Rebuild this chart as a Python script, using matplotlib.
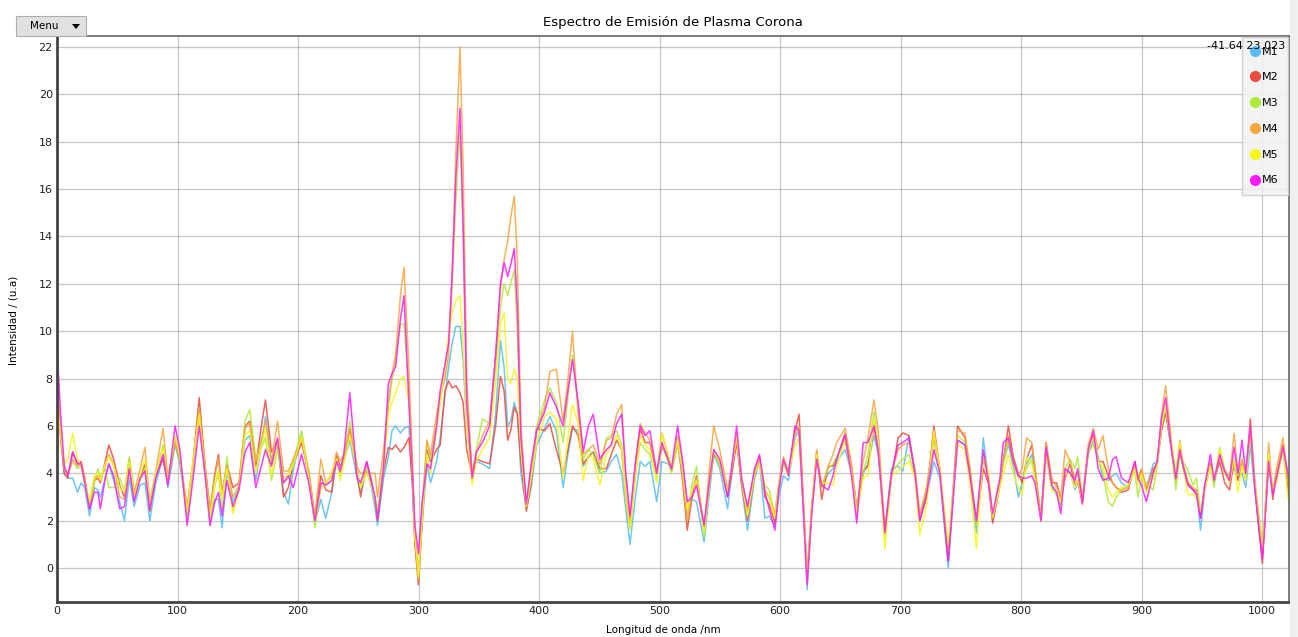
import matplotlib
matplotlib.use("Agg")
from matplotlib import pyplot as plt
from matplotlib.lines import Line2D
from matplotlib.patches import Rectangle, Polygon

# wavelength (nm) and intensity of the six samples
wavelength = [0, 3, 6, 9, 13, 17, 20, 23, 27, 31, 34, 36, 40, 43, 47, 52, 56, 60, 64, 69,
              73, 77, 82, 88, 92, 98, 102, 108, 113, 118, 123, 127, 131, 134, 137, 141, 146, 151, 156, 160,
              165, 169, 173, 178, 183, 188, 192, 196, 203, 209, 214, 219, 223, 228, 232, 235, 238, 243, 249, 252,
              257, 261, 264, 266, 271, 275, 278, 281, 285, 288, 292, 295, 297, 300, 303, 307, 310, 315, 318, 322,
              325, 328, 331, 334.4, 337, 340, 344.5, 348, 353, 359, 364, 368, 371, 374, 376.5, 379.5, 382, 385, 389.5, 393.5,
              398, 404.7, 409, 414.4, 420, 424, 427.8, 432.5, 436.7, 441, 445, 450.5, 456, 460, 464.4, 468.6, 472, 475.5, 480, 484,
              488, 492, 497.7, 502, 507, 510, 515, 519, 523, 527, 530.7, 537, 541, 545, 550, 556.5, 560, 564, 568, 573,
              579, 583, 587.5, 591, 595.8, 599, 602.8, 607, 612.5, 615.8, 619.4, 622.5, 626.3, 630.5, 634.6, 640, 644, 647, 654, 659.6,
              663.7, 669, 673, 678, 681.5, 687, 692.5, 698, 702, 707, 712, 716, 721.6, 727.7, 732.7, 739.6, 747.4, 753.5, 757.6, 763,
              768.7, 772.9, 776.5, 782.5, 785.3, 789.5, 793.6, 797.8, 801, 804.7, 809, 811.6, 816.6, 820.8, 825.5, 829.6, 833, 836.6, 840.7, 844.8,
              847, 851, 855.8, 860, 864, 868, 872.4, 876, 879, 883.4, 889, 894.5, 897, 900, 904, 909.7, 913, 916.5, 920, 924.9,
              928.5, 931.8, 934.5, 938.7, 942.8, 945.6, 949, 952.5, 957.2, 960.2, 964.9, 969, 973, 976.8, 980, 983.4, 986.5, 990.3, 994, 997.5,
              1000.3, 1002, 1005.5, 1009, 1012, 1017.4, 1021.5, 1023]

m1 = [8.0, 5.6, 4.0, 3.8, 3.8, 3.2, 3.6, 3.4, 2.2, 3.4, 3.3, 3.0, 3.8, 4.4, 3.7, 2.8, 2.0, 3.8, 2.6, 3.5,
      3.6, 2.0, 3.6, 4.7, 3.4, 5.2, 4.4, 2.2, 4.3, 6.9, 4.0, 2.1, 2.9, 2.9, 1.7, 4.1, 2.8, 3.4, 5.4, 5.6,
      3.7, 5.0, 6.4, 4.4, 5.2, 3.2, 2.7, 4.1, 5.7, 3.7, 1.9, 2.9, 2.1, 3.2, 4.6, 4.0, 4.5, 5.4, 3.8, 3.2,
      4.1, 3.4, 2.5, 1.8, 3.8, 4.7, 5.8, 6.0, 5.7, 5.9, 6.0, 3.5, 1.2, -0.4, 1.8, 4.4, 3.6, 4.5, 5.5, 7.3,
      8.5, 9.5, 10.2, 10.2, 8.8, 6.0, 3.8, 4.5, 4.4, 4.2, 6.5, 9.6, 8.5, 6.0, 6.2, 7.0, 6.5, 4.0, 2.5, 3.4,
      5.2, 5.9, 6.4, 5.8, 3.4, 4.8, 5.9, 5.8, 4.3, 4.7, 4.9, 4.0, 4.1, 4.5, 4.8, 4.0, 2.5, 1.0, 3.0, 4.5,
      4.3, 4.5, 2.8, 4.5, 4.4, 4.2, 5.5, 4.5, 2.8, 2.9, 2.8, 1.1, 3.0, 4.8, 4.2, 2.5, 4.0, 5.5, 3.5, 1.6,
      3.8, 4.5, 2.1, 2.2, 1.8, 3.0, 3.9, 3.7, 5.5, 5.8, 2.5, -0.9, 2.4, 4.7, 3.4, 4.0, 4.2, 4.5, 5.0, 4.0,
      2.6, 4.0, 4.4, 5.6, 4.8, 1.6, 4.2, 4.3, 4.1, 5.6, 4.0, 2.1, 3.0, 4.5, 3.8, 0.0, 5.4, 5.2, 4.0, 1.5,
      5.5, 3.8, 2.0, 3.5, 4.5, 5.2, 4.3, 3.0, 3.6, 4.4, 4.8, 3.8, 2.0, 4.7, 3.4, 3.1, 2.7, 4.0, 4.1, 3.3,
      3.6, 3.0, 4.8, 5.4, 4.7, 3.8, 3.7, 3.9, 4.0, 3.6, 3.4, 4.3, 3.8, 4.0, 3.4, 4.4, 4.5, 5.8, 6.6, 5.0,
      3.8, 4.8, 4.3, 3.6, 3.3, 3.3, 1.6, 3.3, 4.4, 3.6, 4.8, 4.1, 3.9, 4.2, 3.8, 4.0, 3.4, 5.2, 3.3, 1.6,
      0.6, 1.8, 4.3, 3.3, 4.0, 4.9, 3.6, 3.0]

m2 = [7.2, 5.5, 4.0, 3.8, 4.9, 4.4, 4.5, 3.8, 2.5, 3.7, 3.8, 3.6, 4.5, 5.2, 4.6, 3.5, 3.0, 4.6, 3.0, 3.8,
      4.4, 2.4, 3.9, 4.6, 3.6, 5.4, 4.6, 2.5, 4.5, 7.2, 4.2, 2.4, 4.0, 4.8, 3.1, 4.4, 3.4, 3.6, 6.0, 6.2,
      4.3, 5.8, 7.1, 4.9, 5.4, 3.0, 3.4, 4.4, 5.3, 4.0, 2.1, 3.9, 3.3, 3.2, 4.8, 4.3, 4.5, 5.9, 4.0, 3.0,
      4.5, 3.7, 2.8, 2.0, 4.1, 5.1, 5.0, 5.2, 4.9, 5.1, 5.5, 3.5, 1.0, -0.7, 2.0, 5.0, 4.5, 5.0, 5.2, 7.5,
      7.9, 7.6, 7.7, 7.4, 7.0, 5.0, 3.9, 4.6, 4.5, 4.4, 6.0, 8.1, 7.5, 5.4, 5.8, 6.8, 6.5, 4.5, 2.4, 3.6,
      5.9, 5.8, 6.1, 5.0, 4.0, 5.0, 6.0, 5.6, 4.4, 4.7, 4.9, 4.2, 4.2, 4.8, 5.4, 5.0, 3.0, 1.7, 4.0, 5.9,
      5.3, 5.3, 4.0, 5.1, 4.7, 4.1, 5.3, 3.8, 1.6, 3.0, 3.9, 1.7, 3.5, 4.8, 4.5, 3.0, 4.0, 5.3, 3.6, 2.0,
      4.0, 4.7, 3.0, 2.7, 1.9, 3.4, 4.5, 3.9, 5.8, 6.5, 2.8, -0.3, 2.5, 4.9, 2.9, 4.3, 4.3, 4.6, 5.7, 4.2,
      2.4, 4.1, 4.3, 6.0, 5.0, 1.5, 3.8, 5.5, 5.7, 5.6, 4.0, 2.0, 3.0, 6.0, 4.1, 0.3, 6.0, 5.5, 4.1, 1.9,
      4.2, 3.6, 1.9, 3.5, 4.5, 6.0, 4.7, 4.0, 3.6, 4.6, 5.2, 4.2, 2.0, 5.3, 3.6, 3.6, 2.9, 3.8, 4.4, 3.5,
      3.7, 2.7, 5.0, 5.6, 4.5, 4.5, 3.9, 3.6, 3.4, 3.2, 3.3, 4.5, 3.7, 4.1, 3.3, 4.2, 4.4, 5.8, 6.6, 5.0,
      3.7, 5.1, 4.3, 3.5, 3.3, 3.2, 2.1, 3.4, 4.4, 3.7, 4.5, 3.6, 3.3, 4.5, 3.7, 4.5, 3.8, 6.3, 3.5, 1.6,
      0.2, 1.7, 4.6, 2.9, 4.0, 5.2, 3.3, 2.8]

m3 = [7.6, 5.8, 4.2, 3.9, 4.5, 4.2, 4.3, 3.6, 2.6, 3.6, 4.2, 3.8, 4.2, 3.4, 3.4, 3.8, 3.3, 4.7, 3.3, 3.7,
      4.2, 2.6, 4.0, 5.2, 3.8, 5.5, 4.8, 2.0, 4.4, 6.4, 3.8, 1.8, 3.5, 4.0, 2.4, 4.7, 2.4, 3.4, 6.2, 6.7,
      4.6, 5.0, 5.5, 3.7, 5.0, 3.6, 3.8, 4.5, 5.8, 3.9, 1.7, 3.4, 3.5, 3.7, 4.6, 3.9, 4.6, 6.2, 4.3, 3.4,
      4.2, 3.5, 2.8, 2.2, 4.3, 6.8, 7.9, 8.8, 10.3, 10.3, 7.5, 4.0, 1.5, -0.3, 2.3, 5.4, 4.6, 6.0, 7.0, 8.3,
      9.5, 12.0, 15.5, 18.5, 14.0, 7.5, 4.0, 5.0, 6.3, 6.1, 8.5, 11.0, 12.0, 11.5, 12.0, 12.6, 10.0, 5.0, 2.6, 4.0,
      6.0, 7.1, 7.6, 7.0, 5.3, 7.2, 9.0, 6.8, 4.6, 5.0, 4.8, 4.0, 5.5, 5.6, 5.8, 5.2, 3.2, 1.8, 4.0, 5.3,
      5.0, 4.8, 3.8, 5.2, 4.5, 4.0, 5.2, 4.2, 2.2, 3.5, 4.3, 1.3, 3.3, 4.9, 4.3, 3.2, 4.2, 5.7, 3.8, 2.3,
      4.1, 4.6, 3.5, 3.3, 2.2, 3.5, 4.4, 4.0, 5.6, 5.9, 2.5, -0.6, 2.5, 4.8, 3.4, 4.2, 4.4, 4.7, 5.4, 4.0,
      2.2, 4.0, 4.8, 6.6, 5.2, 1.3, 4.0, 4.4, 4.6, 4.8, 3.9, 2.2, 3.3, 5.4, 4.0, 0.6, 5.6, 5.3, 4.3, 1.8,
      4.8, 4.0, 2.1, 3.6, 4.4, 5.4, 4.4, 3.8, 3.8, 4.2, 4.6, 3.8, 2.1, 4.8, 3.5, 3.1, 2.6, 4.2, 4.6, 4.2,
      4.7, 3.0, 4.9, 5.2, 4.6, 4.0, 2.8, 2.6, 3.0, 3.3, 3.5, 4.1, 3.0, 3.8, 3.6, 3.3, 4.3, 6.0, 6.9, 5.0,
      3.3, 4.8, 4.5, 4.1, 3.5, 3.8, 2.3, 3.5, 4.3, 3.4, 5.1, 4.2, 3.8, 4.6, 3.9, 4.5, 3.8, 5.6, 3.6, 2.2,
      1.1, 1.9, 4.5, 3.2, 4.1, 5.1, 3.8, 3.2]

m4 = [7.8, 6.0, 4.2, 4.0, 4.6, 4.3, 4.4, 3.8, 2.6, 3.8, 3.9, 3.7, 4.3, 4.8, 4.4, 3.0, 2.9, 4.2, 3.2, 4.2,
      5.1, 2.8, 4.1, 5.9, 3.8, 5.3, 4.6, 2.6, 4.5, 6.8, 4.3, 2.5, 3.9, 4.6, 3.2, 4.3, 3.0, 3.5, 5.9, 6.1,
      4.5, 5.3, 6.2, 4.5, 6.2, 4.1, 4.1, 4.6, 5.5, 4.1, 2.2, 4.6, 3.6, 3.9, 4.9, 4.5, 4.8, 5.9, 4.3, 4.0,
      4.0, 4.0, 4.0, 3.0, 5.0, 7.0, 8.2, 9.0, 11.5, 12.7, 8.5, 4.5, 1.5, -0.5, 2.5, 5.4, 4.8, 6.5, 7.3, 8.0,
      9.0, 12.5, 17.5, 22.0, 17.0, 8.0, 3.9, 4.8, 5.6, 6.2, 9.0, 11.8, 13.0, 13.8, 14.8, 15.7, 13.0, 6.0, 2.7, 4.2,
      5.8, 6.8, 8.3, 8.4, 6.2, 8.0, 10.0, 6.5, 4.8, 5.0, 5.2, 4.4, 5.4, 5.5, 6.5, 6.9, 4.0, 2.0, 4.2, 6.1,
      5.7, 5.4, 4.0, 5.7, 4.8, 4.2, 5.6, 4.0, 2.0, 3.2, 3.8, 1.7, 4.0, 6.0, 5.0, 3.3, 4.3, 5.6, 3.9, 2.4,
      4.2, 4.6, 3.3, 3.0, 2.3, 3.6, 4.7, 4.1, 5.7, 6.0, 2.7, -0.4, 2.6, 5.0, 3.4, 4.3, 4.8, 5.3, 5.9, 4.3,
      2.5, 4.5, 5.5, 7.1, 5.8, 1.6, 4.0, 5.0, 5.2, 5.3, 4.2, 2.3, 3.4, 5.6, 4.2, 0.6, 5.8, 5.7, 4.2, 2.0,
      4.6, 3.8, 2.1, 3.7, 4.6, 5.6, 4.6, 3.9, 4.2, 5.5, 5.3, 4.2, 2.2, 5.3, 3.8, 3.4, 3.0, 5.0, 4.5, 3.8,
      4.0, 2.9, 5.2, 5.9, 5.0, 5.6, 4.2, 3.6, 3.4, 3.3, 3.4, 4.4, 3.8, 4.2, 3.4, 4.1, 4.5, 6.4, 7.7, 5.3,
      3.9, 5.4, 4.4, 3.6, 3.4, 3.3, 2.2, 3.5, 4.5, 3.8, 4.7, 4.0, 3.7, 5.7, 4.0, 4.6, 4.0, 5.8, 3.8, 1.9,
      0.8, 1.9, 5.3, 3.1, 4.2, 5.5, 3.8, 3.2]

m5 = [7.0, 5.6, 4.4, 4.6, 5.7, 4.6, 4.3, 3.6, 2.8, 3.9, 4.0, 3.7, 4.4, 4.7, 4.3, 3.4, 3.2, 4.5, 3.0, 3.9,
      4.6, 2.6, 4.0, 5.1, 3.6, 5.6, 4.7, 2.4, 4.6, 6.5, 4.0, 2.2, 3.6, 4.1, 3.0, 4.2, 2.3, 3.3, 5.6, 5.8,
      4.0, 5.0, 5.9, 3.9, 5.4, 3.8, 4.0, 4.3, 5.6, 3.8, 2.0, 3.5, 3.5, 4.1, 4.6, 3.7, 4.4, 5.6, 4.1, 3.4,
      4.0, 3.5, 3.0, 2.4, 4.3, 6.5, 7.0, 7.4, 8.0, 8.1, 7.0, 4.0, 1.3, -0.4, 2.0, 4.8, 4.0, 5.8, 7.0, 8.5,
      9.8, 10.8, 11.3, 11.5, 9.5, 6.0, 3.5, 4.5, 5.0, 5.5, 7.8, 10.3, 10.8, 8.0, 7.8, 8.4, 8.0, 5.0, 2.6, 3.8,
      5.3, 6.4, 6.6, 6.3, 3.8, 5.5, 6.9, 6.1, 3.7, 4.8, 4.6, 3.5, 4.8, 5.2, 5.6, 5.0, 3.0, 1.6, 3.8, 5.6,
      5.2, 5.0, 3.6, 5.7, 4.8, 4.3, 5.4, 4.2, 2.5, 3.3, 3.7, 1.5, 3.4, 5.0, 4.5, 3.2, 4.3, 5.5, 3.7, 2.2,
      4.0, 4.4, 3.2, 3.0, 2.1, 3.5, 4.6, 4.0, 5.2, 5.5, 2.6, -0.5, 2.5, 4.8, 3.6, 3.6, 3.5, 4.3, 5.4, 4.0,
      2.4, 3.8, 3.9, 6.3, 5.2, 0.8, 3.9, 4.1, 4.3, 4.5, 3.8, 1.4, 2.6, 5.8, 4.1, 1.0, 5.2, 5.0, 3.6, 0.8,
      4.9, 4.0, 2.2, 3.4, 4.0, 4.8, 4.0, 3.4, 3.1, 4.7, 4.4, 3.7, 2.0, 4.9, 3.3, 3.2, 2.8, 4.0, 4.0, 3.4,
      3.7, 2.9, 5.0, 5.5, 4.5, 4.3, 3.3, 3.0, 3.2, 3.4, 3.5, 4.2, 3.5, 4.0, 3.2, 3.8, 4.4, 6.0, 6.8, 5.2,
      4.0, 5.3, 4.2, 3.1, 3.1, 3.0, 2.4, 3.3, 4.3, 3.7, 5.0, 4.1, 3.6, 4.6, 3.2, 4.3, 3.7, 5.9, 3.6, 2.0,
      0.9, 1.8, 4.8, 3.3, 3.6, 5.0, 3.0, 2.7]

m6 = [9.3, 6.5, 4.3, 3.9, 4.9, 4.4, 4.4, 3.6, 2.5, 3.2, 3.2, 2.5, 3.8, 4.4, 3.9, 2.5, 2.6, 4.2, 2.8, 3.8,
      4.1, 2.5, 3.8, 4.8, 3.5, 6.0, 5.0, 1.8, 3.8, 6.0, 3.9, 1.8, 2.8, 3.2, 2.2, 3.7, 2.6, 3.3, 4.9, 5.3,
      3.4, 4.2, 5.0, 4.3, 5.5, 3.6, 3.9, 3.4, 4.8, 3.6, 2.0, 3.6, 3.5, 3.7, 4.5, 4.1, 4.8, 7.4, 3.8, 3.6,
      4.5, 3.6, 3.0, 2.1, 4.3, 7.8, 8.2, 8.5, 10.5, 11.5, 7.0, 4.0, 1.8, 0.6, 2.8, 4.4, 4.2, 6.0, 7.5, 8.6,
      9.5, 12.5, 16.5, 19.4, 14.5, 7.0, 3.8, 4.9, 5.3, 6.0, 9.0, 12.0, 12.9, 12.3, 12.8, 13.5, 11.0, 5.5, 2.7, 4.4,
      5.8, 6.6, 7.4, 6.8, 6.0, 7.5, 8.8, 7.0, 4.9, 6.0, 6.5, 4.6, 5.0, 5.2, 6.1, 6.5, 4.0, 2.2, 4.5, 6.0,
      5.6, 5.8, 4.0, 5.3, 4.6, 4.2, 6.0, 4.6, 2.8, 3.0, 3.5, 1.8, 3.5, 5.0, 4.6, 3.0, 4.3, 6.0, 3.8, 2.6,
      4.2, 4.8, 3.2, 2.5, 1.6, 3.3, 4.6, 4.0, 6.0, 5.8, 2.4, -0.7, 2.3, 4.6, 3.5, 3.3, 3.9, 4.6, 5.6, 3.8,
      1.9, 5.3, 5.3, 6.0, 5.0, 1.5, 4.0, 5.2, 5.3, 5.5, 4.0, 2.0, 3.1, 5.0, 4.0, 0.3, 5.4, 5.2, 3.9, 2.0,
      5.0, 3.7, 2.3, 3.8, 5.3, 5.5, 4.5, 3.9, 3.8, 3.8, 3.9, 3.6, 2.0, 5.1, 3.5, 3.2, 2.3, 4.2, 4.0, 3.7,
      4.2, 2.8, 5.0, 5.8, 4.2, 3.7, 3.8, 4.6, 4.7, 3.8, 3.6, 4.5, 3.8, 3.5, 2.8, 4.0, 4.5, 6.3, 7.2, 5.0,
      3.8, 5.0, 4.3, 3.5, 3.3, 3.1, 2.1, 3.5, 4.8, 3.7, 4.8, 4.1, 3.7, 5.1, 4.0, 5.4, 4.0, 6.0, 3.4, 1.7,
      0.4, 1.6, 4.5, 3.1, 3.8, 5.1, 4.0, 3.4]

labels = ["M1", "M2", "M3", "M4", "M5", "M6"]
colors = ["#55bdf5", "#ea4b3c", "#aeea3a", "#f5a63e", "#f6f61a", "#ff1aff"]
series = [m1, m2, m3, m4, m5, m6]

fig = plt.figure(figsize=(12.98, 6.37), dpi=100)
fig.patch.set_facecolor("white")
ax = fig.add_axes([57 / 1298, 1 - 602 / 637, (1289 - 57) / 1298, (602 - 36) / 637])

# gray strip on the far right of the widget
fig.patches.append(Rectangle((1290 / 1298, 0), 8 / 1298, 1, transform=fig.transFigure,
                             facecolor="#f0f0f0", edgecolor="none"))

for ys, c in zip(series, colors):
    ax.plot(wavelength, ys, color=c, lw=1.1, alpha=0.85)

ax.set_xlim(0, 1022.4)
ax.set_ylim(-1.43, 22.46)
ax.set_xticks(range(0, 1001, 100))
ax.set_yticks(range(0, 23, 2))
ax.grid(True, color="#999999", lw=0.9, alpha=0.55)
ax.set_axisbelow(True)
ax.tick_params(length=0, labelsize=8, pad=3, colors="#222222")
for side in ["left", "bottom"]:
    ax.spines[side].set_linewidth(2)
    ax.spines[side].set_color("#444444")
for side in ["top", "right"]:
    ax.spines[side].set_linewidth(1.2)
    ax.spines[side].set_color("#666666")

ax.set_title("Espectro de Emisión de Plasma Corona", fontsize=9.5, pad=7)
fig.text(663 / 1298, 1 - 630 / 637, "Longitud de onda /nm", fontsize=7.5, ha="center", va="center")
fig.text(14 / 1298, 1 - 320 / 637, "Intensidad / (u.a)", fontsize=7.5, ha="center", va="center",
         rotation=90)

handles = [Line2D([], [], ls="none", marker="o", ms=7, color=c, mec=c) for c in colors]
leg = ax.legend(handles, labels, loc="upper right", fontsize=8, frameon=True, fancybox=False,
                handlelength=0.6, handletextpad=0.3, labelspacing=1.42, borderpad=0.9,
                borderaxespad=0.05)
leg.get_frame().set_facecolor("#f2f2f2")
leg.get_frame().set_edgecolor("#cccccc")
leg.get_frame().set_alpha(0.85)

fig.text(1285 / 1298, 1 - 46 / 637, "-41.64 23.023", fontsize=8, ha="right", va="center")

# "Menu" button of the plot widget
fig.patches.append(Rectangle((16 / 1298, 1 - 36 / 637), 70 / 1298, 20 / 637, transform=fig.transFigure,
                             facecolor="#e1e1e1", edgecolor="#adadad", lw=0.8))
fig.text(44 / 1298, 1 - 26 / 637, "Menu", fontsize=7.5, ha="center", va="center")
fig.patches.append(Polygon([(72 / 1298, 1 - 24 / 637), (80 / 1298, 1 - 24 / 637), (76 / 1298, 1 - 29 / 637)],
                           closed=True, transform=fig.transFigure, facecolor="black", edgecolor="none"))

plt.savefig("out.png", dpi=100)
